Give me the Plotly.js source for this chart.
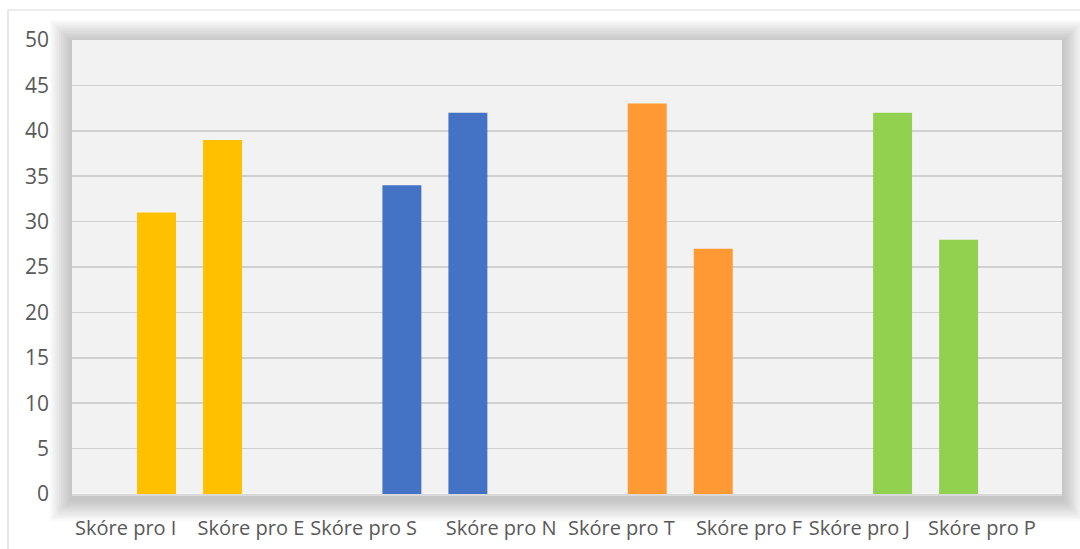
<!DOCTYPE html>
<html>
<head>
<meta charset="utf-8">
<script src="https://cdn.plot.ly/plotly-3.0.1.min.js"></script>
<style>html,body{margin:0;padding:0;background:#fff;}#chart{width:1080px;height:549px;}</style>
</head>
<body>
<div id="chart"></div>
<script>
// Data
const groups = [0, 1, 2, 3];
const firstValues = [31, 34, 43, 42];   // I, S, T, J
const secondValues = [39, 42, 27, 28];  // E, N, F, P
const groupColors = ['#FFC000', '#4472C4', '#FF9933', '#92D050'];
const tickLabels = ['Skóre pro I', 'Skóre pro E', 'Skóre pro S', 'Skóre pro N',
                    'Skóre pro T', 'Skóre pro F', 'Skóre pro J', 'Skóre pro P'];
const tickPositions = [-0.26, 0.25, 0.71, 1.27, 1.76, 2.28, 2.73, 3.23];
const yTicks = [0, 5, 10, 15, 20, 25, 30, 35, 40, 45, 50];

const W = 1080, H = 549;
const m = {l: 72, r: 18, t: 40, b: 55};
const pw = W - m.l - m.r, ph = H - m.t - m.b;

const shapes = [];
// outer chart border
shapes.push({
  type: 'rect', xref: 'paper', yref: 'paper', layer: 'below',
  x0: -(m.l - 8) / pw, x1: 1 + (m.r + 5) / pw,
  y0: -(m.b + 5) / ph, y1: 1 + (m.t - 10) / ph,
  line: {color: '#d9d9d9', width: 1.2}, fillcolor: 'rgba(0,0,0,0)'
});
// soft shadow around plot area
for (let i = 1; i <= 10; i++) {
  const e = i * 2.2;
  shapes.push({
    type: 'rect', xref: 'paper', yref: 'paper', layer: 'below',
    x0: -e / pw, x1: 1 + e / pw,
    y0: -(e + 5) / ph, y1: 1 + (e - 2) / ph,
    line: {width: 0}, fillcolor: 'rgba(0,0,0,0.022)'
  });
}
// plot area fill
shapes.push({
  type: 'rect', xref: 'paper', yref: 'paper', layer: 'below',
  x0: 0, x1: 1, y0: 0, y1: 1,
  line: {width: 0}, fillcolor: '#f2f2f2'
});

const traces = [
  {type: 'bar', x: groups, y: firstValues, marker: {color: groupColors}, hoverinfo: 'y'},
  {type: 'bar', x: groups, y: secondValues, marker: {color: groupColors}, hoverinfo: 'y'}
];

const layout = {
  width: W, height: H,
  margin: m,
  paper_bgcolor: '#ffffff',
  plot_bgcolor: 'rgba(0,0,0,0)',
  showlegend: false,
  barmode: 'group',
  bargap: 0.462,
  bargroupgap: 0.41,
  font: {family: 'Open Sans, sans-serif', size: 20, color: '#595959'},
  xaxis: {
    type: 'linear',
    range: [-0.479, 3.556],
    tickmode: 'array', tickvals: tickPositions, ticktext: tickLabels,
    ticks: '', showgrid: false, zeroline: false,
    showline: true, linecolor: '#d9d9d9', linewidth: 1.5,
    ticklabelstandoff: 15,
    tickfont: {size: 20, color: '#595959'}
  },
  yaxis: {
    range: [0, 50],
    tickmode: 'array', tickvals: yTicks,
    ticks: '', showgrid: true, gridcolor: '#d0d0d0', gridwidth: 1.5,
    zeroline: false, showline: false,
    ticklabelstandoff: 22,
    tickfont: {size: 21, color: '#595959'}
  },
  shapes: shapes
};

Plotly.newPlot('chart', traces, layout, {displayModeBar: false, staticPlot: true});
</script>
</body>
</html>
